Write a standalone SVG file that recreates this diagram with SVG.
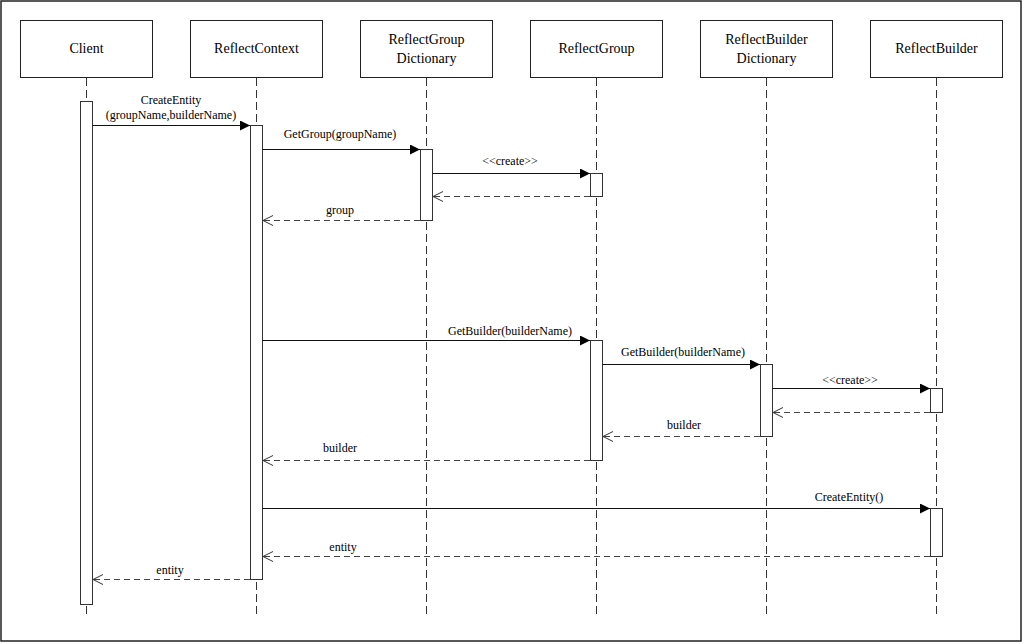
<svg xmlns="http://www.w3.org/2000/svg" width="1024" height="644" viewBox="0 0 1024 644">
  <style>
    .frame { fill: #ffffff; stroke: #222; stroke-width: 1.5; }
    .box { fill: #ffffff; stroke: #222; stroke-width: 1; }
    .name { font-family: 'Liberation Serif', 'DejaVu Serif', serif; font-size: 14px; fill: #000; text-anchor: middle; }
    .lifeline { stroke: #333; stroke-width: 1; stroke-dasharray: 8 4; fill: none; }
    .act { fill: #ffffff; stroke: #333; stroke-width: 1; }
    .call { stroke: #111; stroke-width: 1; fill: none; marker-end: url(#solidHead); }
    .reply { stroke: #444; stroke-width: 1; stroke-dasharray: 6 4; fill: none; marker-end: url(#openHead); }
    .msg { font-family: 'Liberation Serif', 'DejaVu Serif', serif; font-size: 12px; fill: #000; text-anchor: middle; }
  </style>
  <defs>
    <marker id="solidHead" markerUnits="userSpaceOnUse" markerWidth="11" markerHeight="10" refX="10" refY="5" orient="auto">
      <path d="M0,0 L10,5 L0,10 z" fill="#000"/>
    </marker>
    <marker id="openHead" markerUnits="userSpaceOnUse" markerWidth="12" markerHeight="12" refX="11" refY="6" orient="auto">
      <path d="M1,1 L11,6 L1,11" fill="none" stroke="#333" stroke-width="1"/>
    </marker>
  </defs>

  <rect class="frame" x="1" y="1" width="1020" height="640"/>

  <!-- participants with lifelines and activation bars -->
  <g id="client" font-family="Liberation Serif, serif">
    <rect class="box" x="20.5" y="20.5" width="132" height="57"/>
    <text class="name" x="86.5" y="53">Client</text>
    <line class="lifeline" x1="86.5" y1="78" x2="86.5" y2="617"/>
    <rect class="act" x="80.5" y="101.5" width="12" height="503"/>
  </g>

  <g id="reflectContext">
    <rect class="box" x="190.5" y="20.5" width="132" height="57"/>
    <text class="name" x="256.5" y="53">ReflectContext</text>
    <line class="lifeline" x1="256.5" y1="78" x2="256.5" y2="617"/>
    <rect class="act" x="250.5" y="125.5" width="12" height="454"/>
  </g>

  <g id="reflectGroupDictionary">
    <rect class="box" x="360.5" y="20.5" width="132" height="57"/>
    <text class="name" x="426.5" y="44">ReflectGroup</text>
    <text class="name" x="426.5" y="63">Dictionary</text>
    <line class="lifeline" x1="426.5" y1="78" x2="426.5" y2="617"/>
    <rect class="act" x="420.5" y="149.5" width="12" height="71"/>
  </g>

  <g id="reflectGroup">
    <rect class="box" x="530.5" y="20.5" width="132" height="57"/>
    <text class="name" x="596.5" y="53">ReflectGroup</text>
    <line class="lifeline" x1="596.5" y1="78" x2="596.5" y2="617"/>
    <rect class="act" x="590.5" y="173.5" width="12" height="23"/>
    <rect class="act" x="590.5" y="340.5" width="12" height="120"/>
  </g>

  <g id="reflectBuilderDictionary">
    <rect class="box" x="700.5" y="20.5" width="132" height="57"/>
    <text class="name" x="766.5" y="44">ReflectBuilder</text>
    <text class="name" x="766.5" y="63">Dictionary</text>
    <line class="lifeline" x1="766.5" y1="78" x2="766.5" y2="617"/>
    <rect class="act" x="760.5" y="364.5" width="12" height="72"/>
  </g>

  <g id="reflectBuilder">
    <rect class="box" x="870.5" y="20.5" width="132" height="57"/>
    <text class="name" x="936.5" y="53">ReflectBuilder</text>
    <line class="lifeline" x1="936.5" y1="78" x2="936.5" y2="617"/>
    <rect class="act" x="930.5" y="388.5" width="12" height="24"/>
    <rect class="act" x="930.5" y="508.5" width="12" height="48"/>
  </g>

  <!-- messages -->
  <g id="connectors">
    <line class="call" x1="92.5" y1="125.5" x2="250" y2="125.5"/>
    <text class="msg" x="171" y="104">CreateEntity</text>
    <text class="msg" x="171" y="119">(groupName,builderName)</text>

    <line class="call" x1="262.5" y1="149.5" x2="420" y2="149.5"/>
    <text class="msg" x="340" y="138">GetGroup(groupName)</text>

    <line class="call" x1="432.5" y1="173.5" x2="590" y2="173.5"/>
    <text class="msg" x="510" y="165">&lt;&lt;create&gt;&gt;</text>

    <line class="reply" x1="590" y1="196.5" x2="433" y2="196.5"/>

    <line class="reply" x1="420" y1="220.5" x2="263" y2="220.5"/>
    <text class="msg" x="340" y="214">group</text>

    <line class="call" x1="262.5" y1="340.5" x2="590" y2="340.5"/>
    <text class="msg" x="510" y="335">GetBuilder(builderName)</text>

    <line class="call" x1="602.5" y1="364.5" x2="760" y2="364.5"/>
    <text class="msg" x="683" y="356">GetBuilder(builderName)</text>

    <line class="call" x1="772.5" y1="388.5" x2="930" y2="388.5"/>
    <text class="msg" x="850" y="384">&lt;&lt;create&gt;&gt;</text>

    <line class="reply" x1="930" y1="412.5" x2="773" y2="412.5"/>

    <line class="reply" x1="760" y1="436.5" x2="603" y2="436.5"/>
    <text class="msg" x="684" y="429">builder</text>

    <line class="reply" x1="590" y1="460.5" x2="263" y2="460.5"/>
    <text class="msg" x="340" y="452">builder</text>

    <line class="call" x1="262.5" y1="508.5" x2="930" y2="508.5"/>
    <text class="msg" x="849" y="501">CreateEntity()</text>

    <line class="reply" x1="930" y1="556.5" x2="263" y2="556.5"/>
    <text class="msg" x="343" y="551">entity</text>

    <line class="reply" x1="250" y1="579.5" x2="93" y2="579.5"/>
    <text class="msg" x="170" y="574">entity</text>
  </g>
</svg>
